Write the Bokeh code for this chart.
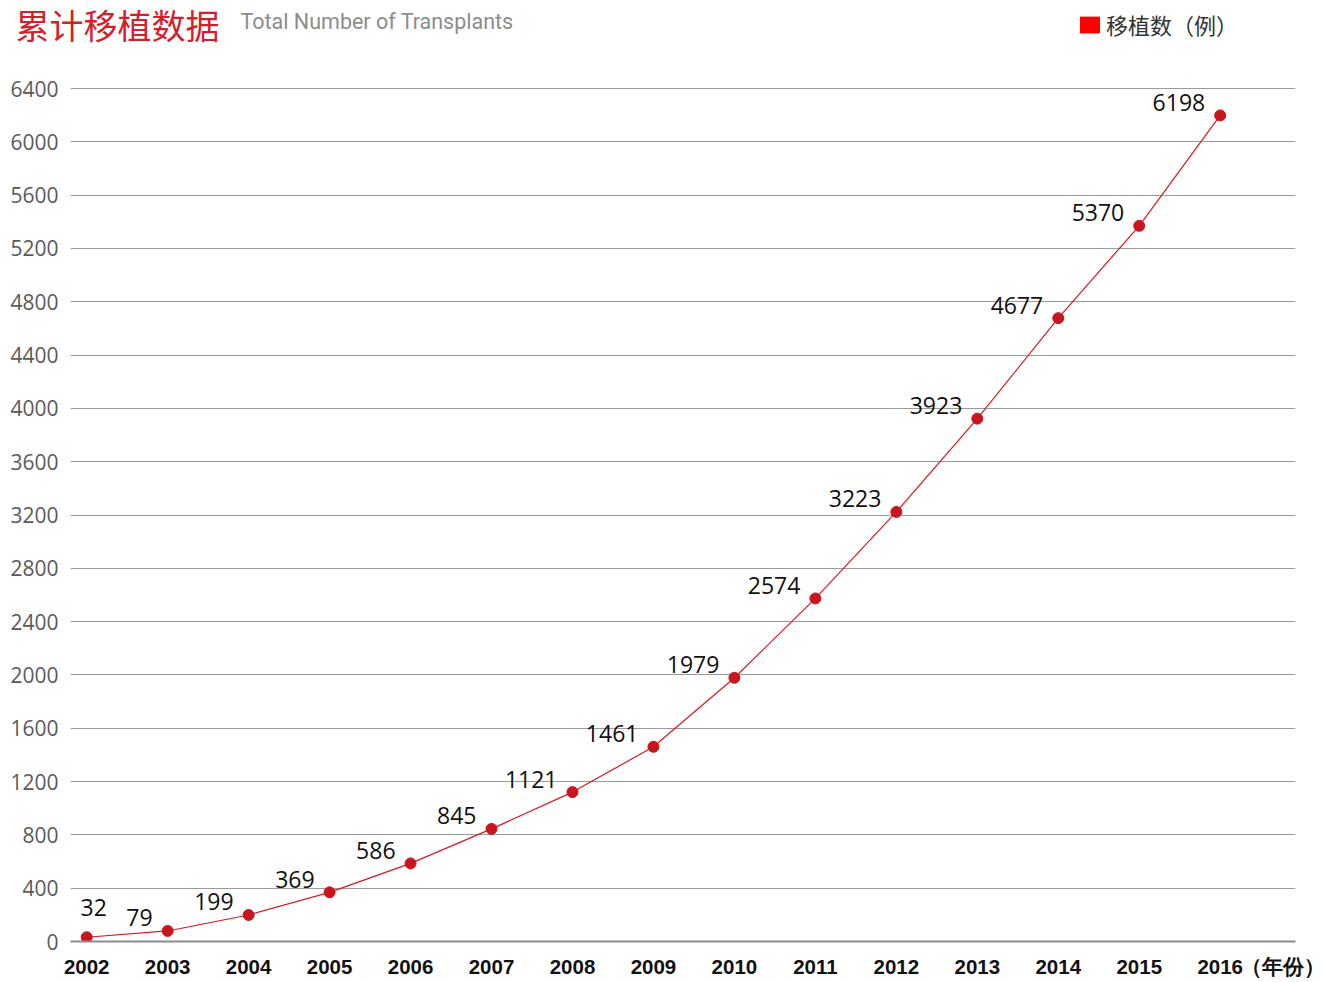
from bokeh.plotting import figure
from bokeh.models import (Range1d, FixedTicker, ColumnDataSource, LabelSet,
                          Legend, LegendItem, Plot)
from bokeh.layouts import column
from bokeh.core.properties import value
from bokeh.embed import file_html
from bokeh.resources import INLINE

# ---- data ----
years = [2002, 2003, 2004, 2005, 2006, 2007, 2008, 2009, 2010, 2011, 2012, 2013, 2014, 2015, 2016]
transplants = [32, 79, 199, 369, 586, 845, 1121, 1461, 1979, 2574, 3223, 3923, 4677, 5370, 6198]
y_ticks = [0, 400, 800, 1200, 1600, 2000, 2400, 2800, 3200, 3600, 4000, 4400, 4800, 5200, 5600, 6000, 6400]
title_cn = "累计移植数据"
title_en = "Total Number of Transplants"
series_name = "移植数（例）"
x_unit = "（年份）"

# ---- layout constants (page pixels) ----
W = 1324
HEAD_H = 56
MAIN_H = 924
FL, FR = 70, 1295            # frame left / right on the page
FT, FB = 87, 941             # frame top / bottom on the page
X0, X1 = 2001.8, 2016.93
PX_PER_UNIT = (941 - 88) / 6400.0
Y0, Y1 = 0, 6400 + (88 - FT) / PX_PER_UNIT

def dx(px):
    return X0 + (px - FL) * (X1 - X0) / (FR - FL)

HAS_FRAME_ALIGN = "frame_align" in Plot.properties()

# ---- header ----
head = figure(width=W, height=HEAD_H, output_backend="svg", toolbar_location=None,
              x_range=Range1d(0, W), y_range=Range1d(HEAD_H, 0),
              x_axis_location=None, y_axis_location=None,
              min_border=0)
head.outline_line_color = None
head.grid.grid_line_color = None
head.text(x=[15], y=[24], text=[title_cn], text_font=value("Noto Sans CJK SC"),
          text_font_size="34px", text_color="#d4202a", text_baseline="middle")
head.text(x=[240], y=[21], text=[title_en], text_font=value("Roboto"),
          text_font_size="21.5px", text_color="#8c8c8c", text_baseline="middle")
# legend swatch renderer (its data lies outside the visible header range)
sq = head.rect(x=[-1000], y=[-1000], width=1, height=1, fill_color="#ff0000", line_color=None)
legend = Legend(items=[LegendItem(label=series_name, renderers=[sq])],
                location=(1077, 16),
                background_fill_alpha=0, border_line_alpha=0,
                padding=0, margin=0, spacing=0,
                glyph_width=25, glyph_height=21, label_standoff=4,
                label_text_font="Noto Sans CJK SC", label_text_font_size="22px",
                label_text_color="#333333", label_height=21)
head.add_layout(legend, "center")

# ---- main chart ----
p = figure(width=W, height=MAIN_H, output_backend="svg", toolbar_location=None,
           x_range=Range1d(X0, X1), y_range=Range1d(Y0, Y1),
           min_border_left=FL, min_border_right=W - FR,
           min_border_top=FT - HEAD_H, min_border_bottom=HEAD_H + MAIN_H - FB)
p.outline_line_color = None
if HAS_FRAME_ALIGN:
    head.frame_align = False
    p.frame_align = False

# x axis: one tick per year, plus the unit label at the right end
unit_tick = round(dx(1285), 2)
p.xaxis.ticker = FixedTicker(ticks=years + [unit_tick])
p.xaxis.major_label_overrides = {unit_tick: x_unit}
p.xaxis.major_label_text_font = "Liberation Sans"
p.xaxis.major_label_text_font_style = "bold"
p.xaxis.major_label_text_font_size = "20.5px"
p.xaxis.major_label_text_color = "#111111"
p.xaxis.major_tick_out = 0
p.xaxis.major_tick_in = 0
p.xaxis.major_label_standoff = 13
p.xaxis.major_tick_line_color = None
p.xaxis.minor_tick_line_color = None
p.xaxis.axis_line_color = "#8c8c8c"
p.xaxis.axis_line_width = 2

p.yaxis.ticker = FixedTicker(ticks=y_ticks)
p.yaxis.major_label_text_font = "Open Sans"
p.yaxis.major_label_text_font_size = "21px"
p.yaxis.major_label_text_color = "#5a5a5a"
p.yaxis.major_tick_out = 0
p.yaxis.major_tick_in = 0
p.yaxis.major_label_standoff = 12
p.yaxis.major_tick_line_color = None
p.yaxis.minor_tick_line_color = None
p.yaxis.axis_line_color = None

p.xgrid.grid_line_color = None
p.ygrid.ticker = FixedTicker(ticks=y_ticks)
p.ygrid.grid_line_color = "#9a9a9a"
p.ygrid.grid_line_width = 1

# series
src = ColumnDataSource(dict(year=years, value=transplants))
p.line("year", "value", source=src, line_color="#d71920", line_width=1.2)
p.scatter("year", "value", source=src, size=11, fill_color="#c8161e",
          line_color="#c8161e")

labels_txt = [str(v) for v in transplants]
src_first = ColumnDataSource(dict(year=years[:1], value=transplants[:1], label=labels_txt[:1]))
src_rest = ColumnDataSource(dict(year=years[1:], value=transplants[1:], label=labels_txt[1:]))

label_style = dict(text_font=value("Open Sans"), text_font_size="23px",
                   text_color="#111111", text_baseline="middle")
p.add_layout(LabelSet(x="year", y="value", text="label", source=src_first,
                      text_align="center", x_offset=7, y_offset=30, **label_style))
p.add_layout(LabelSet(x="year", y="value", text="label", source=src_rest,
                      text_align="right", x_offset=-15, y_offset=13, **label_style))

open("out.html", "w").write(file_html(column(head, p, spacing=0), INLINE))
